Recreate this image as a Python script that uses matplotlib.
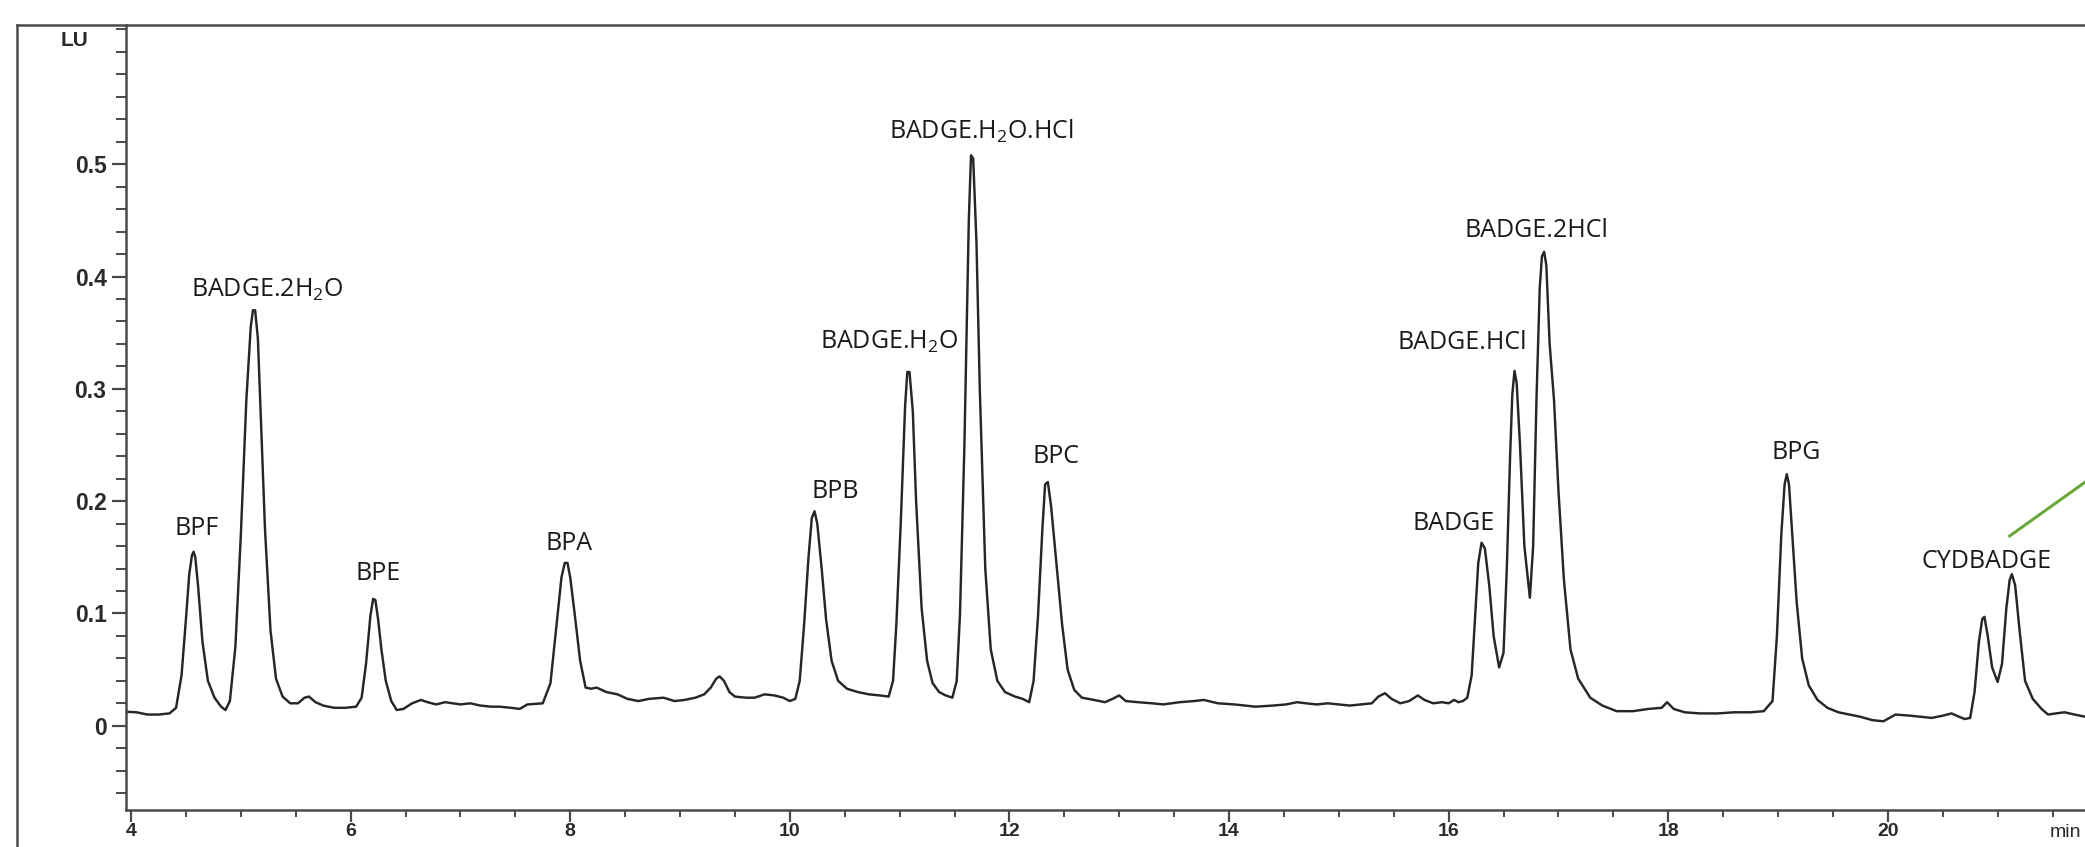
import matplotlib
matplotlib.use("Agg")
import matplotlib.pyplot as plt
from matplotlib import font_manager
from matplotlib.lines import Line2D
from matplotlib.ticker import MultipleLocator, FixedLocator

# Chromatogram of bisphenols / BADGE derivatives (fluorescence, LU vs min)

trace_min = [
    # baseline + BPF
    3.95, 4.05, 4.15, 4.25, 4.35, 4.41, 4.46, 4.50, 4.53, 4.555, 4.57, 4.585,
    4.61, 4.65, 4.70, 4.76, 4.82, 4.86,
    # BADGE.2H2O, BPE
    4.90, 4.95, 5.00, 5.05, 5.09, 5.11, 5.13, 5.155, 5.18, 5.22, 5.27, 5.32,
    5.38, 5.45, 5.52, 5.58, 5.62, 5.68, 5.75, 5.85, 5.95, 6.05, 6.10, 6.14,
    6.18, 6.205, 6.225, 6.25, 6.28, 6.32, 6.37, 6.42,
    # BPA, small peak at 9.4
    6.48, 6.56, 6.64, 6.70, 6.78, 6.86, 6.93, 7.00, 7.09, 7.18, 7.28, 7.36,
    7.46, 7.54, 7.61, 7.75, 7.82, 7.87, 7.92, 7.95, 7.975, 8.00, 8.04, 8.09,
    8.14, 8.19, 8.24, 8.33, 8.43, 8.52, 8.62, 8.72, 8.85, 8.95, 9.04, 9.14,
    9.22, 9.28, 9.33, 9.36, 9.40, 9.45, 9.50, 9.60, 9.68, 9.77, 9.86, 9.94,
    # BPB
    10.00, 10.05, 10.09, 10.13, 10.17, 10.20, 10.225, 10.25, 10.29, 10.33,
    10.38, 10.44, 10.52, 10.62, 10.72, 10.82, 10.90,
    # BADGE.H2O, BADGE.H2O.HCl
    10.94, 10.97, 11.01, 11.05, 11.07, 11.09, 11.12, 11.15, 11.20, 11.25,
    11.30, 11.36, 11.42, 11.48, 11.52, 11.55, 11.59, 11.63, 11.65, 11.67,
    11.70, 11.73, 11.78, 11.83, 11.89, 11.96, 12.05, 12.12, 12.18,
    # BPC + baseline
    12.22, 12.26, 12.30, 12.325, 12.35, 12.38, 12.43, 12.48, 12.53, 12.59,
    12.66, 12.77, 12.87, 12.94, 13.00, 13.06, 13.17, 13.30, 13.40, 13.55,
    13.68, 13.77, 13.90, 14.05, 14.24, 14.40, 14.52, 14.62, 14.70, 14.80,
    14.90, 15.00, 15.10, 15.20, 15.30, 15.36, 15.42, 15.48, 15.56, 15.64,
    15.72, 15.78, 15.86, 15.94, 16.00, 16.05, 16.09, 16.13,
    # BADGE, BADGE.HCl, BADGE.2HCl
    16.17, 16.21, 16.24, 16.27, 16.30, 16.33, 16.37, 16.41, 16.46, 16.50,
    16.53, 16.56, 16.58, 16.60, 16.62, 16.65, 16.69, 16.74, 16.77, 16.80,
    16.83, 16.85, 16.87, 16.89, 16.92, 16.96, 17.00, 17.05, 17.11, 17.18,
    17.29, 17.40, 17.53, 17.68, 17.82, 17.94,
    # BPG
    17.99, 18.05, 18.15, 18.29, 18.45, 18.60, 18.75, 18.87, 18.95, 18.99,
    19.03, 19.06, 19.08, 19.10, 19.13, 19.17, 19.22, 19.28, 19.36, 19.45,
    19.55, 19.65, 19.75, 19.86,
    # CYDBADGE pair
    19.96, 20.07, 20.20, 20.30, 20.40, 20.50, 20.58, 20.65, 20.70, 20.75,
    20.79, 20.83, 20.86, 20.88, 20.91, 20.95, 21.00, 21.04, 21.08, 21.11,
    21.13, 21.16, 21.20, 21.25, 21.32, 21.40, 21.46, 21.53, 21.61, 21.70,
    21.80,
]

trace_lu = [
    # baseline + BPF
    0.0125, 0.012, 0.010, 0.010, 0.011, 0.016, 0.045, 0.095, 0.135, 0.152, 0.155, 0.150,
    0.125, 0.075, 0.040, 0.025, 0.017, 0.014,
    # BADGE.2H2O, BPE
    0.022, 0.070, 0.170, 0.290, 0.355, 0.370, 0.370, 0.345, 0.280, 0.175, 0.085, 0.042,
    0.026, 0.020, 0.020, 0.025, 0.026, 0.021, 0.018, 0.016, 0.016, 0.017, 0.025, 0.055,
    0.098, 0.113, 0.112, 0.095, 0.068, 0.040, 0.022, 0.014,
    # BPA, small peak at 9.4
    0.015, 0.020, 0.023, 0.021, 0.019, 0.021, 0.020, 0.019, 0.020, 0.018, 0.017, 0.017,
    0.016, 0.015, 0.019, 0.020, 0.038, 0.085, 0.132, 0.145, 0.145, 0.132, 0.100, 0.058,
    0.034, 0.033, 0.034, 0.030, 0.028, 0.024, 0.022, 0.024, 0.025, 0.022, 0.023, 0.025,
    0.028, 0.034, 0.042, 0.044, 0.040, 0.030, 0.026, 0.025, 0.025, 0.028, 0.027, 0.025,
    # BPB
    0.022, 0.024, 0.040, 0.090, 0.150, 0.185, 0.191, 0.180, 0.140, 0.095,
    0.058, 0.040, 0.033, 0.030, 0.028, 0.027, 0.026,
    # BADGE.H2O, BADGE.H2O.HCl
    0.040, 0.090, 0.180, 0.285, 0.315, 0.315, 0.280, 0.200, 0.105, 0.058,
    0.038, 0.030, 0.027, 0.025, 0.040, 0.100, 0.250, 0.450, 0.508, 0.505,
    0.430, 0.300, 0.140, 0.068, 0.040, 0.030, 0.026, 0.024, 0.021,
    # BPC + baseline
    0.040, 0.097, 0.175, 0.215, 0.217, 0.195, 0.142, 0.090, 0.050, 0.032,
    0.025, 0.023, 0.021, 0.024, 0.027, 0.022, 0.021, 0.020, 0.019, 0.021,
    0.022, 0.023, 0.020, 0.019, 0.017, 0.018, 0.019, 0.021, 0.020, 0.019,
    0.020, 0.019, 0.018, 0.019, 0.020, 0.026, 0.029, 0.024, 0.020, 0.022,
    0.027, 0.023, 0.020, 0.021, 0.020, 0.023, 0.021, 0.022,
    # BADGE, BADGE.HCl, BADGE.2HCl
    0.025, 0.045, 0.095, 0.145, 0.163, 0.158, 0.125, 0.080, 0.052, 0.065,
    0.140, 0.240, 0.295, 0.316, 0.305, 0.250, 0.160, 0.114, 0.160, 0.290,
    0.390, 0.418, 0.422, 0.410, 0.340, 0.290, 0.210, 0.130, 0.068, 0.042,
    0.025, 0.018, 0.013, 0.013, 0.015, 0.016,
    # BPG
    0.021, 0.015, 0.012, 0.011, 0.011, 0.012, 0.012, 0.013, 0.022, 0.080,
    0.170, 0.215, 0.224, 0.215, 0.170, 0.110, 0.060, 0.036, 0.023, 0.016,
    0.012, 0.010, 0.008, 0.005,
    # CYDBADGE pair
    0.004, 0.010, 0.009, 0.008, 0.007, 0.009, 0.011, 0.008, 0.006, 0.007,
    0.030, 0.075, 0.095, 0.097, 0.080, 0.052, 0.039, 0.055, 0.105, 0.130,
    0.135, 0.125, 0.085, 0.040, 0.024, 0.015, 0.010, 0.011, 0.012, 0.010,
    0.008,
]

peak_names = [
    "BPF", "BADGE.2H$_\\mathregular{2}$O", "BPE", "BPA", "BPB",
    "BADGE.H$_\\mathregular{2}$O", "BADGE.H$_\\mathregular{2}$O.HCl", "BPC",
    "BADGE", "BADGE.HCl", "BADGE.2HCl", "BPG", "CYDBADGE",
]
label_min = [4.60, 5.24, 6.25, 7.99, 10.41, 10.90, 11.74, 12.42,
             16.05, 16.12, 16.80, 19.17, 20.90]
label_lu = [0.176, 0.388, 0.136, 0.162, 0.209, 0.342, 0.529, 0.240,
            0.180, 0.341, 0.441, 0.243, 0.146]

x_major = [4, 6, 8, 10, 12, 14, 16, 18, 20]
y_major = [0, 0.1, 0.2, 0.3, 0.4, 0.5]
y_labels = ["0", "0.1", "0.2", "0.3", "0.4", "0.5"]

# green pointer line at the right edge
pointer_min = [21.11, 22.5]
pointer_lu = [0.169, 0.266]

W, H = 2085, 847
names = {f.name for f in font_manager.fontManager.ttflist}
tick_font = "Liberation Sans Narrow" if "Liberation Sans Narrow" in names else "Liberation Sans"
label_font = ["Open Sans", "DejaVu Sans"]

fig = plt.figure(figsize=(W / 100, H / 100), dpi=100)
fig.patch.set_facecolor("white")
ax = fig.add_axes([126 / W, 37 / H, (W - 126) / W, 785 / H])

ax.plot(trace_min, trace_lu, color="#262626", lw=1.75, solid_joinstyle="round")
ax.plot(pointer_min, pointer_lu, color="#6aa83c", lw=2.2)

for name, lx, ly in zip(peak_names, label_min, label_lu):
    ax.text(lx, ly, name, ha="center", va="center", fontsize=18,
            family=label_font, color="#1a1a1a")

ax.set_xlim(3.954, 21.796)
ax.set_ylim(-0.075, 0.624)

ax.xaxis.set_major_locator(FixedLocator(x_major))
ax.xaxis.set_minor_locator(MultipleLocator(0.5))
ax.yaxis.set_major_locator(FixedLocator(y_major))
ax.yaxis.set_minor_locator(MultipleLocator(0.02))
ax.set_yticklabels(y_labels)

for s in ["top", "right"]:
    ax.spines[s].set_visible(False)
for s in ["left", "bottom"]:
    ax.spines[s].set_color("#4a4a4a")
    ax.spines[s].set_linewidth(1.8)

ax.tick_params(axis="y", which="major", direction="out", length=10,
               width=1.6, color="#4a4a4a", labelsize=16.5,
               labelcolor="#2a2a2a", pad=4)
ax.tick_params(axis="x", which="major", direction="out", length=8.6,
               width=1.6, color="#4a4a4a", labelsize=14,
               labelcolor="#2a2a2a", pad=1)
ax.tick_params(axis="y", which="minor", direction="out", length=7.5,
               width=1.4, color="#4a4a4a")
ax.tick_params(axis="x", which="minor", direction="out", length=5,
               width=1.4, color="#4a4a4a")
for lab in ax.get_xticklabels() + ax.get_yticklabels():
    lab.set_family(tick_font)
    lab.set_fontweight("bold")

# outer frame of the instrument printout
fx, fy = 17 / W, 1 - 25 / H
fig.add_artist(Line2D([fx, fx], [0, fy], transform=fig.transFigure,
                      color="#4a4a4a", lw=1.8))
fig.add_artist(Line2D([fx, 1], [fy, fy], transform=fig.transFigure,
                      color="#4a4a4a", lw=1.8))

fig.text(75 / W, 1 - 41 / H, "LU", ha="center", va="center", fontsize=15,
         family=tick_font, fontweight="bold", color="#2a2a2a")
fig.text(2081 / W, 1 - 824 / H, "min", ha="right", va="top", fontsize=14,
         family=tick_font, color="#2a2a2a")

fig.savefig("out.png", dpi=100, facecolor="white")
